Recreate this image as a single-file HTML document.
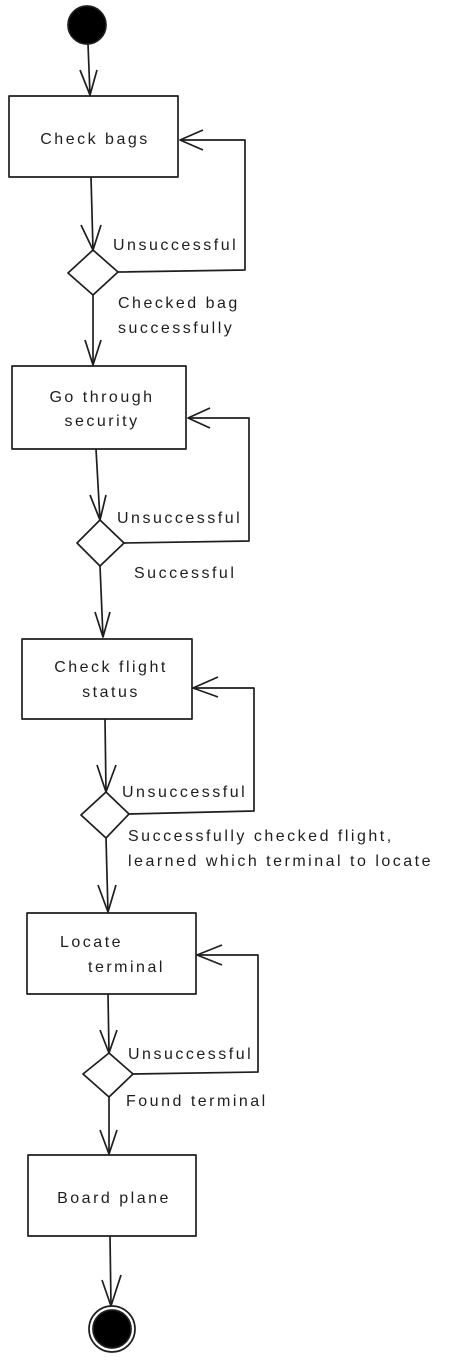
<!DOCTYPE html>
<html><head><meta charset="utf-8"><style>
html,body{margin:0;padding:0;background:#fff;}
svg{display:block}
text{font-family:"Liberation Sans",sans-serif;font-size:16px;letter-spacing:2.5px;fill:#1e1e1e;}
</style></head><body>
<svg width="453" height="1361" viewBox="0 0 453 1361" xmlns="http://www.w3.org/2000/svg">
<g stroke="#1e1e1e" stroke-width="1.7" fill="none" stroke-linejoin="round">
<circle cx="87" cy="25" r="19" fill="#000"/>
<line x1="88" y1="44" x2="90" y2="95"/>
<polyline points="80,70 90,95 97,70"/>
<rect x="9" y="96" width="169" height="81" fill="#fff"/>
<line x1="91" y1="177" x2="93" y2="250"/>
<polyline points="81,225 93,250 101,225"/>
<polygon points="93,250 118,272 93,295 68,273" fill="#fff"/>
<polyline points="118,272 245,270 245,140 180,140"/>
<polyline points="203,130 180,140 203,150"/>
<line x1="93" y1="295" x2="93" y2="365"/>
<polyline points="85,340 93,365 101,340"/>
<rect x="12" y="366" width="174" height="83" fill="#fff"/>
<line x1="96" y1="449" x2="100" y2="520"/>
<polyline points="90,495 100,520 106,495"/>
<polygon points="100,520 124,543 100,566 77,543" fill="#fff"/>
<polyline points="124,543 249,541 249,418 188,418"/>
<polyline points="210,408 188,418 210,428"/>
<line x1="100" y1="566" x2="103" y2="637"/>
<polyline points="95,612 103,637 110,612"/>
<rect x="22" y="639" width="170" height="80" fill="#fff"/>
<line x1="105" y1="719" x2="106" y2="792"/>
<polyline points="97,765 106,792 116,765"/>
<polygon points="106,792 129,814 106,838 81,815" fill="#fff"/>
<polyline points="129,814 254,811 254,688 193,688"/>
<polyline points="218,677 193,688 218,697"/>
<line x1="106" y1="838" x2="108" y2="912"/>
<polyline points="98,885 108,912 116,885"/>
<rect x="27" y="913" width="169" height="81" fill="#fff"/>
<line x1="108" y1="994" x2="109" y2="1053"/>
<polyline points="100,1030 109,1053 117,1030"/>
<polygon points="109,1053 133,1074 109,1097 83,1074" fill="#fff"/>
<polyline points="133,1074 258,1072 258,955 197,955"/>
<polyline points="222,945 197,955 222,965"/>
<line x1="109" y1="1097" x2="109" y2="1154"/>
<polyline points="100,1130 109,1154 117,1130"/>
<rect x="28" y="1155" width="168" height="81" fill="#fff"/>
<line x1="110" y1="1236" x2="111" y2="1306"/>
<polyline points="102,1280 111,1306 121,1275"/>
<circle cx="112" cy="1329" r="23" fill="#fff"/>
<circle cx="112" cy="1329" r="19" fill="#000"/>
</g>
<g>
<text x="95" y="144" text-anchor="middle">Check bags</text>
<text x="113" y="250">Unsuccessful</text>
<text x="118" y="308">Checked bag</text>
<text x="118" y="333">successfully</text>
<text x="102" y="402" text-anchor="middle">Go through</text>
<text x="102" y="426" text-anchor="middle">security</text>
<text x="117" y="523">Unsuccessful</text>
<text x="134" y="578">Successful</text>
<text x="111" y="672" text-anchor="middle">Check flight</text>
<text x="111" y="697" text-anchor="middle">status</text>
<text x="122" y="797">Unsuccessful</text>
<text x="128" y="841">Successfully checked flight,</text>
<text x="128" y="866">learned which terminal to locate</text>
<text x="60" y="947">Locate</text>
<text x="88" y="972">terminal</text>
<text x="128" y="1059">Unsuccessful</text>
<text x="126" y="1106">Found terminal</text>
<text x="114" y="1203" text-anchor="middle">Board plane</text>
</g>
</svg>
</body></html>
